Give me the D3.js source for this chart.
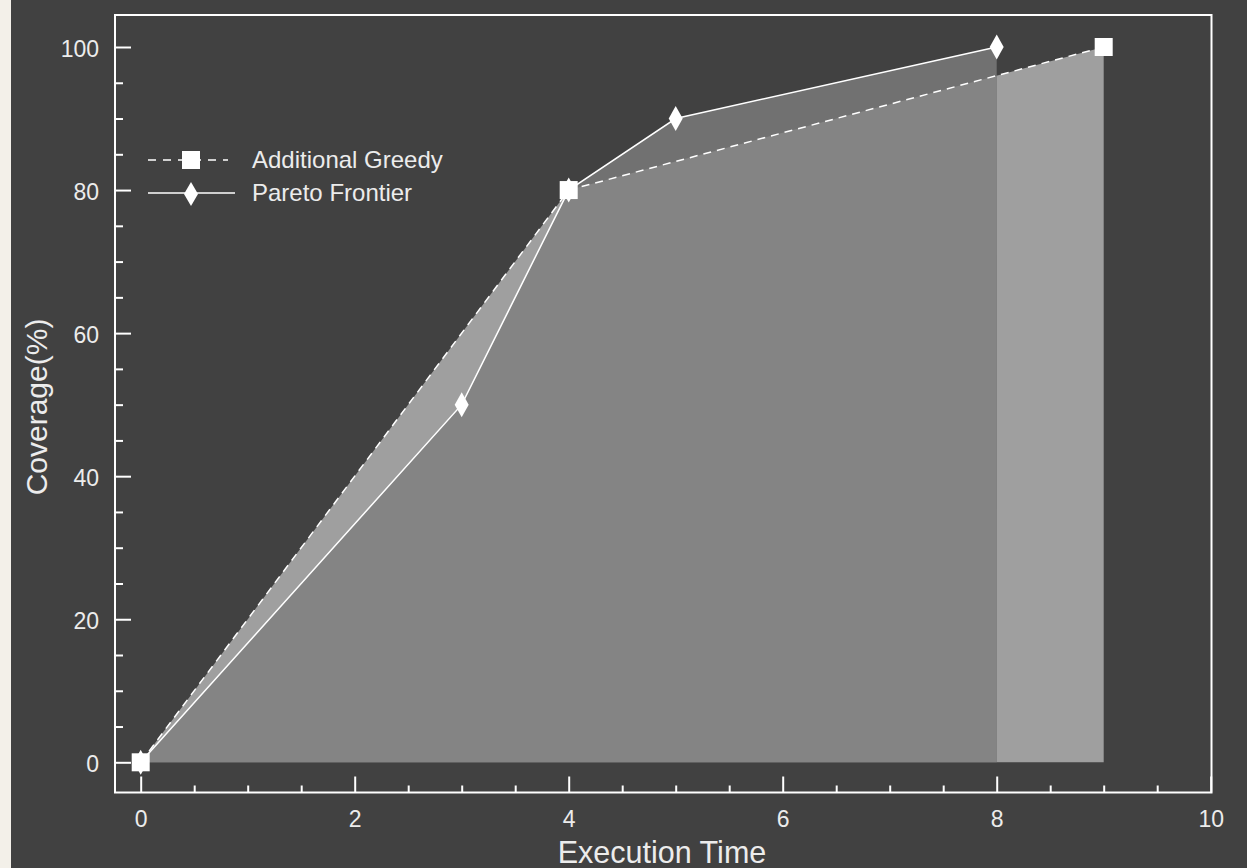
<!DOCTYPE html>
<html>
<head>
<meta charset="utf-8">
<script src="https://cdn.jsdelivr.net/npm/d3@7"></script>
<style>
  html, body { margin: 0; padding: 0; background: #414141; }
  svg { display: block; }
  text { font-family: "Liberation Sans", Arial, Helvetica, sans-serif; }
</style>
</head>
<body>
<svg id="chart" width="1247" height="868"></svg>
<script>
// Series data
const greedyTime = [0, 4, 9];
const greedyCoverage = [0, 80, 100];
const paretoTime = [0, 3, 4, 5, 8];
const paretoCoverage = [0, 50, 80, 90, 100];

// Axis ticks
const xMajorTicks = [0, 2, 4, 6, 8, 10];
const xMinorTicks = [0.5, 1, 1.5, 2.5, 3, 3.5, 4.5, 5, 5.5, 6.5, 7, 7.5, 8.5, 9, 9.5];
const yMajorTicks = [0, 20, 40, 60, 80, 100];
const yMinorTicks = [5, 10, 15, 25, 30, 35, 45, 50, 55, 65, 70, 75, 85, 90, 95];

const seriesNames = ["Additional Greedy", "Pareto Frontier"];

const greedy = greedyTime.map((t, i) => ({ t, c: greedyCoverage[i] }));
const pareto = paretoTime.map((t, i) => ({ t, c: paretoCoverage[i] }));

const svg = d3.select("#chart");
const W = 1247, H = 868;

// Page background and the pale strip on the left edge
svg.append("rect").attr("width", W).attr("height", H).attr("fill", "#414141");
svg.append("rect").attr("x", 0).attr("y", 0).attr("width", 11).attr("height", H).attr("fill", "#f3f0e9");

// Plot frame
const frame = { left: 115, top: 15, right: 1211.5, bottom: 792.5 };

const x = d3.scaleLinear().domain([0, 10]).range([140.7, 1210.7]);
const y = d3.scaleLinear().domain([0, 100]).range([762.3, 47]);

const area = d3.area().x(d => x(d.t)).y0(y(0)).y1(d => y(d.c));
const line = d3.line().x(d => x(d.t)).y(d => y(d.c));

// Filled areas: greedy only, pareto only, and their overlap
svg.append("defs").append("clipPath").attr("id", "greedyClip")
  .append("path").attr("d", area(greedy));

svg.append("path").attr("d", area(greedy)).attr("fill", "#9f9f9f");
svg.append("path").attr("d", area(pareto)).attr("fill", "#717171");
svg.append("path").attr("d", area(pareto)).attr("fill", "#848484")
  .attr("clip-path", "url(#greedyClip)");

// Axes
const tickColor = "#ffffff";
const labelColor = "#ececec";

const yAxis = svg.append("g").attr("transform", `translate(${frame.left},0)`)
  .call(d3.axisLeft(y).tickValues(yMajorTicks).tickSize(-16).tickPadding(16));
const yMinor = svg.append("g").attr("transform", `translate(${frame.left},0)`)
  .call(d3.axisLeft(y).tickValues(yMinorTicks).tickSize(-8).tickFormat(""));

const xAxis = svg.append("g").attr("transform", `translate(0,${frame.bottom})`)
  .call(d3.axisBottom(x).tickValues(xMajorTicks).tickSize(-16).tickPadding(18.5));
const xMinor = svg.append("g").attr("transform", `translate(0,${frame.bottom})`)
  .call(d3.axisBottom(x).tickValues(xMinorTicks).tickSize(-7).tickFormat(""));

[yAxis, yMinor, xAxis, xMinor].forEach(g => {
  g.select(".domain").remove();
  g.selectAll(".tick line").attr("stroke", tickColor).attr("stroke-width", 2);
  g.selectAll(".tick text").attr("fill", labelColor).attr("font-size", 23)
    .attr("font-family", "Liberation Sans, Arial, sans-serif");
});
yAxis.selectAll(".tick text").attr("dy", "0.4em");

// Frame rectangle
svg.append("rect")
  .attr("x", frame.left).attr("y", frame.top)
  .attr("width", frame.right - frame.left).attr("height", frame.bottom - frame.top)
  .attr("fill", "none").attr("stroke", "#ffffff").attr("stroke-width", 2);

// Axis titles
svg.append("text")
  .attr("x", 662).attr("y", 863)
  .attr("text-anchor", "middle").attr("fill", labelColor).attr("font-size", 30.5)
  .text("Execution Time");
svg.append("text")
  .attr("transform", "translate(47,407) rotate(-90)")
  .attr("text-anchor", "middle").attr("fill", labelColor).attr("font-size", 30)
  .text("Coverage(%)");

// Series lines
svg.append("path").attr("d", line(greedy))
  .attr("fill", "none").attr("stroke", "#ffffff").attr("stroke-width", 1.5)
  .attr("stroke-dasharray", "8,6");
svg.append("path").attr("d", line(pareto))
  .attr("fill", "none").attr("stroke", "#ffffff").attr("stroke-width", 1.5);

// Markers
const diamond = (cx, cy, w, h) =>
  `M${cx},${cy - h / 2}L${cx + w / 2},${cy}L${cx},${cy + h / 2}L${cx - w / 2},${cy}Z`;

svg.append("g").selectAll("path").data(pareto).join("path")
  .attr("d", d => diamond(x(d.t), y(d.c), 14, 25))
  .attr("fill", "#ffffff");

svg.append("g").selectAll("rect").data(greedy).join("rect")
  .attr("x", d => x(d.t) - 9).attr("y", d => y(d.c) - 9)
  .attr("width", 18).attr("height", 18)
  .attr("fill", "#ffffff");

// Legend
const legend = svg.append("g");
const rows = [
  { name: seriesNames[0], ly: 160, dash: "8,7", marker: "square" },
  { name: seriesNames[1], ly: 193, dash: null, marker: "diamond" }
];
rows.forEach(r => {
  legend.append("line")
    .attr("x1", 148).attr("x2", r.dash ? 228 : 235).attr("y1", r.ly).attr("y2", r.ly)
    .attr("stroke", "#ffffff").attr("stroke-width", 1.5)
    .attr("stroke-dasharray", r.dash);
  if (r.marker === "square") {
    legend.append("rect").attr("x", 182).attr("y", r.ly - 9)
      .attr("width", 18).attr("height", 18).attr("fill", "#ffffff");
  } else {
    legend.append("path").attr("d", diamond(191, r.ly + 1, 14, 24)).attr("fill", "#ffffff");
  }
  legend.append("text")
    .attr("x", 252).attr("y", r.ly + 7.5)
    .attr("fill", labelColor).attr("font-size", 24)
    .text(r.name);
});
</script>
</body>
</html>
